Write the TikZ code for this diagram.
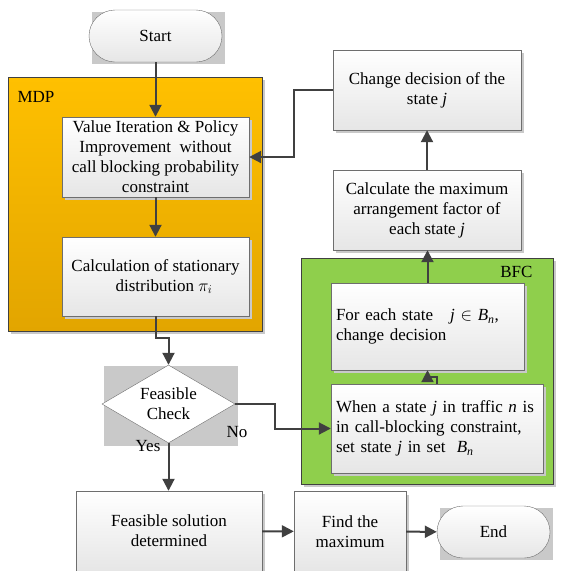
\documentclass[tikz,border=0pt]{standalone}
\usepackage{fontspec}
\setmainfont{Liberation Serif}
\usetikzlibrary{arrows.meta,shapes.geometric,shadows,backgrounds}

\definecolor{lineGray}{HTML}{404040}
\definecolor{edgeGray}{HTML}{6E6E6E}
\definecolor{mdpTop}{HTML}{FFC000}
\definecolor{mdpBot}{HTML}{E2A500}
\definecolor{bfcGreen}{HTML}{8FCF4C}
\definecolor{boxBot}{HTML}{E6E6E6}
\definecolor{shadeGray}{HTML}{C9C9C9}

\tikzset{
  boxshadow/.style={drop shadow={shadow xshift=3pt, shadow yshift=-3pt, fill=shadeGray, opacity=1}},
  procbox/.style={draw=edgeGray, top color=white, bottom color=boxBot,
    minimum width=187pt, minimum height=80pt, inner sep=2pt, align=center, boxshadow},
  leftbox/.style={procbox, align=left, inner xsep=5pt},
  termbox/.style={draw=edgeGray, top color=white, bottom color=boxBot,
    minimum width=133pt, minimum height=52pt, rounded corners=26pt},
  checkbox/.style={diamond, draw=edgeGray, fill=white, aspect=1.7, inner sep=0pt,
    minimum width=133pt, minimum height=78pt, align=center},
  group/.style={draw=lineGray, line width=0.8pt, boxshadow},
  flow/.style={draw=lineGray, line width=2pt, -{Triangle[width=12pt,length=12pt]}}
}

\begin{document}
\begin{tikzpicture}[x=1pt, y=-1pt, font=\fontsize{17}{20}\selectfont]
\useasboundingbox (0,0) rectangle (568,571);

% containers
\node (mdp) [group, top color=mdpTop, bottom color=mdpBot,
  minimum width=254pt, minimum height=254pt] at (135,204) {};
\node (mdplbl) [anchor=west] at (14,97) {MDP};
\node (bfc) [group, fill=bfcGreen, minimum width=252pt, minimum height=226pt] at (427,371) {};
\node (bfclbl) [anchor=east] at (536,272) {BFC};

% left column
\node (start) [termbox] at (155.5,36) {Start};
\node (vi) [procbox] at (155.5,157) {Value Iteration \& Policy\\Improvement\ \ without\\call blocking probability\\constraint};
\node (calc) [procbox, minimum height=79pt] at (155.5,276.5) {Calculation of stationary\\\quad distribution $\pi_i$};
\node (chk) [checkbox] at (168.5,404) {Feasible\\Check};
\node (yes) at (148,446) {Yes};
\node (no) at (237,432) {No};

% bottom row
\node (sol) [procbox, minimum width=186pt] at (169,531) {Feasible solution\\determined};
\node (fmax) [procbox, minimum width=112pt] at (350,531.5) {Find the\\maximum};
\node (endn) [termbox, minimum width=113pt] at (493.5,532) {End};

% right column
\node (chg) [procbox, minimum width=188pt] at (427,90) {Change decision of the\\state \textit{j}};
\node (cmax) [procbox, minimum width=188pt] at (427,210) {Calculate the maximum\\arrangement factor of\\each state \textit{j}};
\node (fe) [leftbox, text width=183pt, minimum height=87pt] at (427.5,326.5)
  {For each state \ \ \textit{j} $\in$ \textit{B}\textsubscript{\textit{n}},\\change decision};
\node (when) [leftbox, text width=202pt, minimum height=89pt] at (437,428.5)
  {When a state \textit{j} in traffic \textit{n} is\\in call-blocking constraint,\\set state \textit{j} in set \ \textit{B}\textsubscript{\textit{n}}};

% gray backdrops
\begin{scope}[on background layer]
\fill[shadeGray] ([shift={(3,2)}]start.south west) rectangle ([shift={(3,2)}]start.north east);
\fill[shadeGray] ([shift={(3,2)}]endn.south west) rectangle ([shift={(3,2)}]endn.north east);
\fill[shadeGray] (104,366) rectangle (238,446);
\end{scope}

% connectors
\draw[flow] (start) -- (vi);
\draw[flow] (vi) -- (calc);
\draw[flow] (calc.south) -- ++(0,22) -| (chk.north);
\draw[flow] (chk.south) -- (chk.south |- sol.north);
\draw[flow] (chk.east) -- ++(40,0) |- (when.west);
\draw[flow] (when.north) -- ++(0,-7) -| (fe.south);
\draw[flow] (fe.north) -- (fe.north |- cmax.south);
\draw[flow] (cmax) -- (chg);
\draw[flow] (chg.west) -- ++(-39,0) |- (vi.east);
\draw[flow] (sol) -- (fmax);
\draw[flow] (fmax) -- (endn);

\end{tikzpicture}
\end{document}
